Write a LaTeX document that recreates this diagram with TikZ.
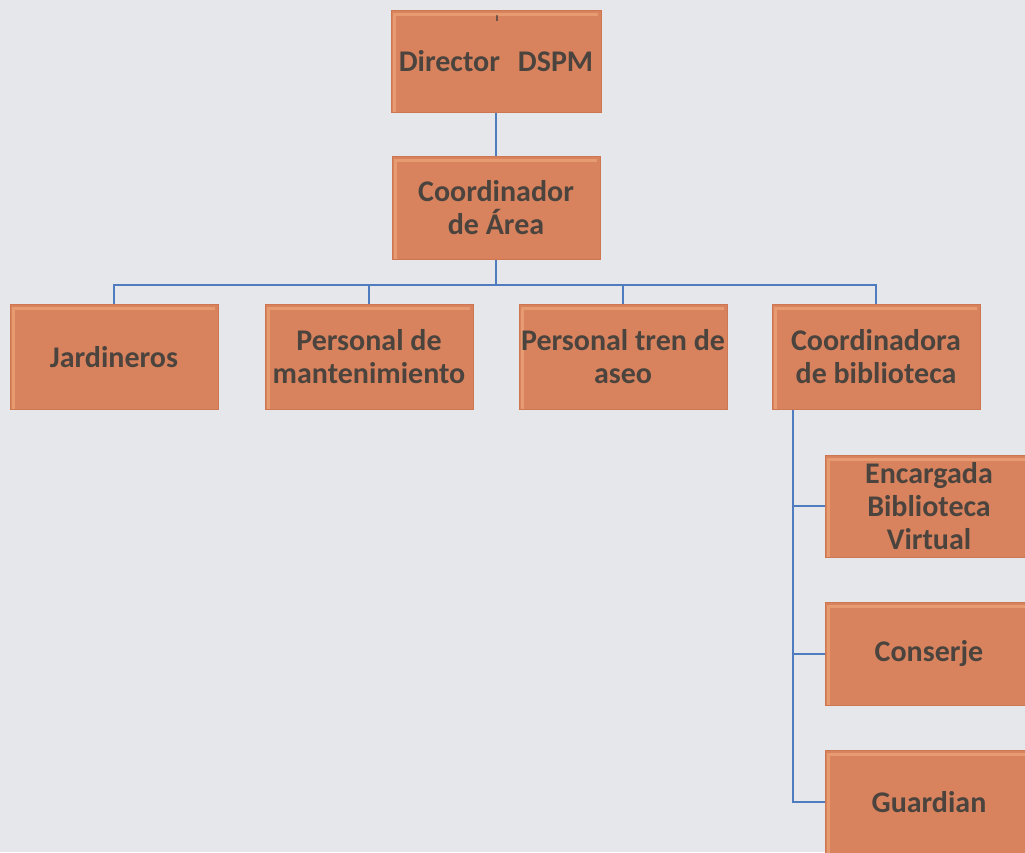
\documentclass[tikz,border=0pt]{standalone}
\usepackage{fontspec}
\setmainfont{Carlito}
\definecolor{bg}{RGB}{229,231,235}
\definecolor{boxfill}{RGB}{216,131,94}
\definecolor{boxedge}{RGB}{205,118,80}
\definecolor{boxhi}{RGB}{230,155,112}
\definecolor{txt}{RGB}{75,68,62}
\definecolor{conn}{RGB}{79,124,190}
\tikzset{
  orgbox/.style={rectangle, fill=boxfill, draw=boxedge, line width=1pt,
    minimum width=208pt, minimum height=103pt, inner sep=0pt,
    align=center, text=txt, font=\fontsize{30}{33}\selectfont\bfseries,
    path picture={
      \draw[boxhi, line width=3pt]
        ([xshift=3pt,yshift=-4pt]path picture bounding box.south west)
        -- ([xshift=3pt,yshift=-4pt]path picture bounding box.north west)
        -- ([xshift=-3pt,yshift=-4pt]path picture bounding box.north east);
    }},
  link/.style={draw=conn, line width=2pt}
}
\begin{document}
\begin{tikzpicture}[x=1pt,y=-1pt]
\fill[bg] (0,0) rectangle (1025,852);
\useasboundingbox (0,0) rectangle (1025,852);
\node[orgbox, minimum width=210pt, minimum height=102pt] (dir) at (496,61) {Director\hspace{0.6em}DSPM};
\node[text=txt, font=\fontsize{12}{12}\selectfont\bfseries, inner sep=0pt] (tick) at (497,19) {ı};
\node[orgbox] (coord) at (496,208) {Coordinador\\de Área};
\node[orgbox, minimum height=105pt] (jard) at (114,357) {Jardineros};
\node[orgbox, minimum height=105pt] (mant) at (369,357) {Personal de\\mantenimiento};
\node[orgbox, minimum height=105pt] (aseo) at (623,357) {Personal tren de\\aseo};
\node[orgbox, minimum height=105pt] (cbib) at (876,357) {Coordinadora\\de biblioteca};
\node[orgbox, minimum height=102pt] (enc) at (929,506) {Encargada\\Biblioteca\\Virtual};
\node[orgbox, minimum height=103pt] (cons) at (929,653.5) {Conserje};
\node[orgbox, minimum height=104pt] (guard) at (929,802) {Guardian};
\coordinate (cbl) at ([xshift=21pt]cbib.south west);
\draw[link] (dir.south) -- (coord.north);
\draw[link] (coord.south) -- ++(0,25) -| (jard.north);
\draw[link] (coord.south) -- ++(0,25) -| (mant.north);
\draw[link] (coord.south) -- ++(0,25) -| (aseo.north);
\draw[link] (coord.south) -- ++(0,25) -| (cbib.north);
\draw[link] (cbl) |- (enc.west);
\draw[link] (cbl) |- (cons.west);
\draw[link] (cbl) |- (guard.west);
\end{tikzpicture}
\end{document}
